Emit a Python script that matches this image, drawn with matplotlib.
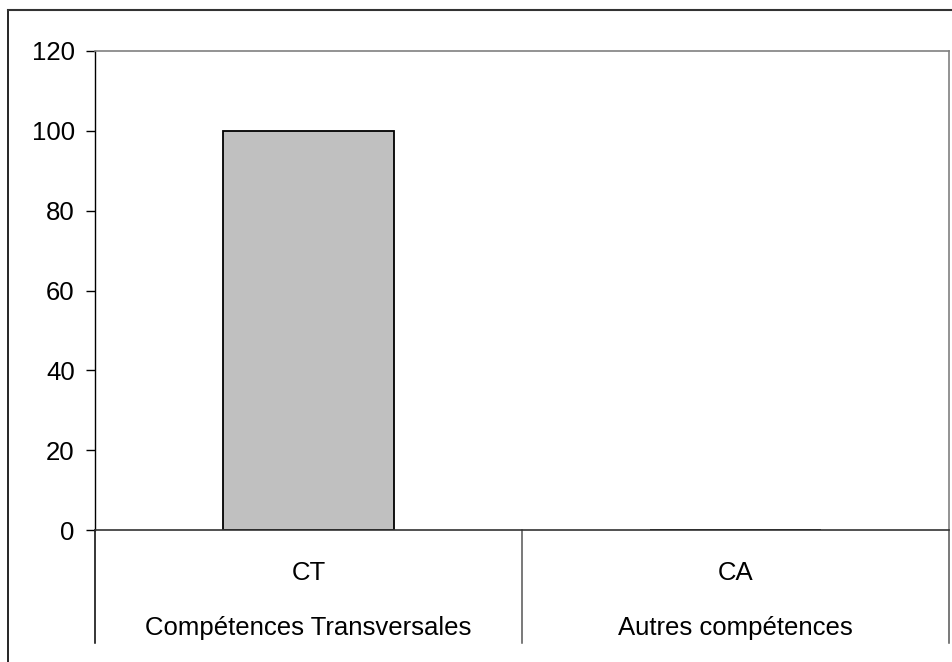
import numpy as np, matplotlib
matplotlib.use("Agg"); import matplotlib.pyplot as plt
from matplotlib.lines import Line2D
import matplotlib.transforms as mtransforms

# category codes, long names and values
codes = ["CT", "CA"]
names = ["Compétences Transversales", "Autres compétences"]
values = [100, 0]
yticks = [0, 20, 40, 60, 80, 100, 120]

plt.rcParams["font.family"] = ["Liberation Sans", "DejaVu Sans"]
FS = 18.5

fig = plt.figure(figsize=(9.52, 6.62), dpi=100)
ax = fig.add_axes([95 / 952, 1 - 530 / 662, 854 / 952, 479 / 662])

x = np.arange(len(codes))
ax.bar(x, values, width=0.4, color="#C0C0C0", edgecolor="black", linewidth=1.3, zorder=2)

ax.set_xlim(-0.5, len(codes) - 0.5)
ax.set_ylim(0, 120)
ax.set_yticks(yticks)
ax.tick_params(axis="y", direction="out", length=6.5, width=1, pad=8, labelsize=FS)
ax.set_xticks([])

for s in ["top", "right"]:
    ax.spines[s].set_color("#808080"); ax.spines[s].set_linewidth(1.2)
ax.spines["left"].set_color("black"); ax.spines["left"].set_linewidth(1)
ax.spines["bottom"].set_color("#333333"); ax.spines["bottom"].set_linewidth(1.2)
ax.spines["bottom"].set_zorder(3)

# category separators extending below the axis
tr = mtransforms.blended_transform_factory(ax.transData, ax.transAxes)
for xb in np.arange(len(codes) + 1) - 0.5:
    col = "black" if xb < 0 else "#555555"
    ax.add_line(Line2D([xb, xb], [0, -113 / 479], transform=tr, color=col,
                       lw=1.1, clip_on=False))

for xi, c, n in zip(x, codes, names):
    ax.text(xi, -50 / 479, c, transform=tr, ha="center", va="baseline", fontsize=FS)
    ax.text(xi, -105 / 479, n, transform=tr, ha="center", va="baseline", fontsize=FS)

# outer frame of the chart area
fig.add_artist(Line2D([8 / 952, 8 / 952], [0, 1 - 10 / 662], transform=fig.transFigure,
                      color="black", lw=1.2))
fig.add_artist(Line2D([8 / 952, 1], [1 - 10 / 662, 1 - 10 / 662], transform=fig.transFigure,
                      color="#333333", lw=1.5))

fig.savefig("out.png", dpi=100)
